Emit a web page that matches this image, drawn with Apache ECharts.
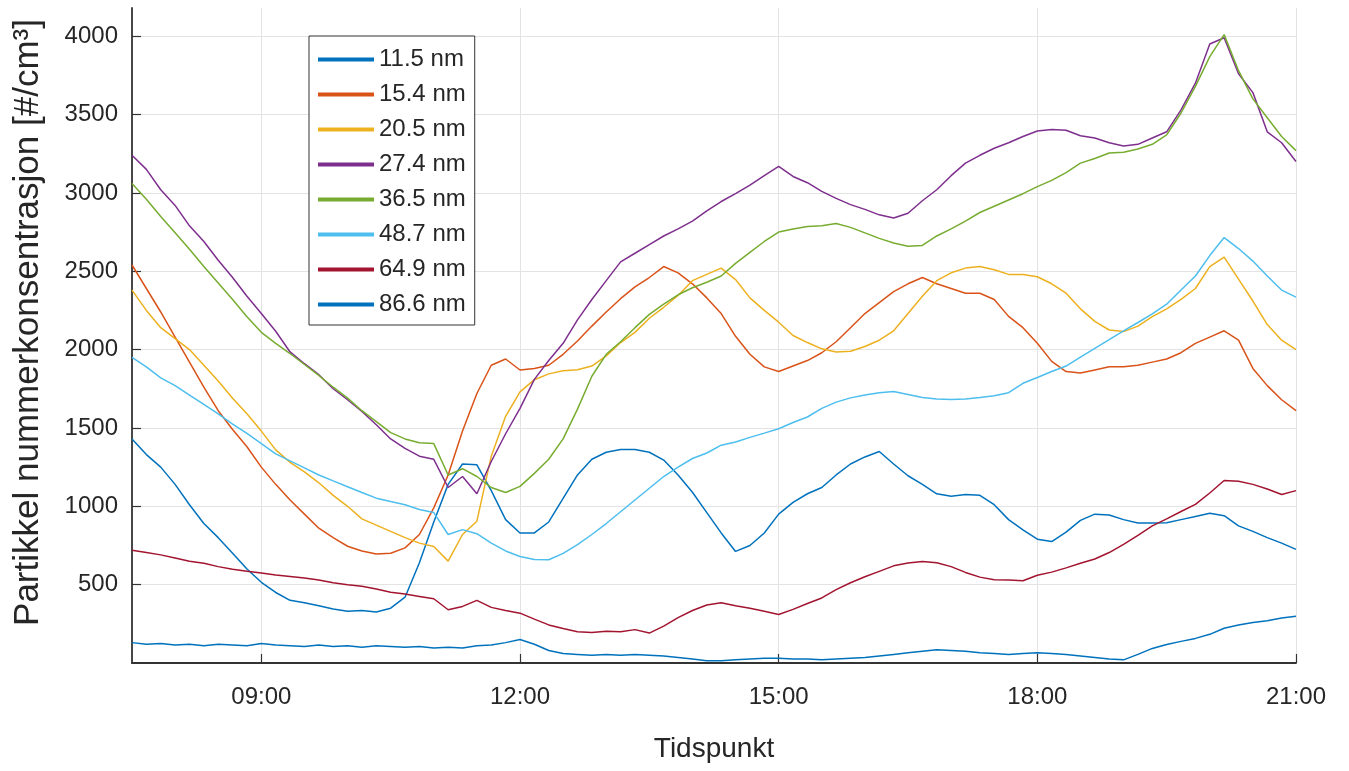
<!DOCTYPE html>
<html>
<head>
<meta charset="utf-8">
<script src="https://cdn.jsdelivr.net/npm/echarts@6/dist/echarts.min.js"></script>
<style>
html,body{margin:0;padding:0;background:#fff;}
#chart{width:1349px;height:771px;}
</style>
</head>
<body>
<div id="chart"></div>
<script>
// Sampling: every 10 minutes from 07:30 to 21:00
const sampleStartHour = 7.5;
const sampleStepMinutes = 10;

const seriesNames = ['11.5 nm','15.4 nm','20.5 nm','27.4 nm','36.5 nm','48.7 nm','64.9 nm','86.6 nm'];
const seriesColors = ['#0072BD','#D95319','#EDB120','#7E2F8E','#77AC30','#4DBEEE','#A2142F','#0072BD'];

const s115 = [1430,1330,1250,1140,1010,890,800,700,600,515,
 450,400,385,365,345,330,335,325,350,420,
 640,900,1140,1270,1265,1100,915,830,830,900,
 1050,1200,1300,1345,1362,1362,1345,1295,1200,1090,
 960,830,712,750,830,950,1025,1080,1120,1200,
 1270,1315,1350,1270,1195,1140,1080,1064,1075,1070,
 1010,915,850,790,775,835,910,950,945,915,
 894,894,895,915,935,955,940,875,840,800,
 765,725];

const s154 = [2540,2390,2240,2080,1920,1760,1610,1490,1380,1250,
 1140,1040,950,860,800,745,715,695,700,735,
 820,990,1200,1480,1720,1900,1940,1870,1880,1900,
 1970,2055,2150,2240,2325,2400,2460,2530,2490,2420,
 2330,2230,2085,1970,1890,1860,1895,1930,1980,2050,
 2140,2230,2300,2370,2420,2460,2420,2390,2360,2360,
 2320,2212,2140,2040,1925,1860,1850,1870,1890,1890,
 1900,1920,1940,1980,2040,2080,2120,2060,1880,1770,
 1680,1610];

const s205 = [2380,2250,2140,2070,2000,1900,1800,1690,1590,1480,
 1360,1280,1220,1150,1070,1000,920,880,840,800,
 765,744,650,820,905,1320,1574,1730,1808,1845,
 1865,1872,1895,1960,2045,2110,2200,2270,2345,2440,
 2480,2520,2447,2330,2250,2175,2090,2045,2005,1985,
 1990,2020,2060,2120,2230,2340,2440,2490,2520,2530,
 2510,2480,2480,2465,2420,2360,2260,2180,2125,2115,
 2150,2210,2260,2320,2390,2530,2590,2450,2310,2160,
 2060,2000];

const s274 = [3240,3150,3020,2920,2790,2690,2570,2460,2340,2230,
 2117,1985,1910,1840,1750,1680,1605,1520,1430,1370,
 1320,1300,1120,1190,1080,1286,1463,1625,1810,1930,
 2040,2190,2320,2440,2560,2615,2670,2725,2770,2820,
 2885,2945,2995,3050,3110,3170,3105,3065,3010,2965,
 2925,2895,2860,2840,2870,2950,3020,3110,3190,3240,
 3285,3320,3360,3395,3405,3400,3365,3350,3320,3300,
 3310,3350,3390,3530,3700,3950,3990,3760,3640,3390,
 3320,3200];

const s365 = [3060,2960,2850,2745,2640,2530,2425,2320,2210,2110,
 2040,1975,1905,1835,1760,1690,1610,1540,1470,1430,
 1405,1400,1200,1240,1190,1120,1088,1127,1210,1300,
 1430,1620,1830,1970,2050,2140,2225,2290,2350,2395,
 2430,2470,2550,2620,2690,2750,2770,2785,2790,2805,
 2780,2745,2710,2680,2660,2665,2725,2770,2820,2875,
 2915,2955,2995,3040,3080,3130,3190,3220,3255,3260,
 3280,3310,3370,3510,3680,3870,4010,3780,3600,3480,
 3360,3270];

const s487 = [1950,1890,1820,1770,1710,1650,1590,1525,1465,1400,
 1335,1290,1245,1200,1162,1125,1088,1052,1030,1010,
 980,960,820,851,825,765,715,680,660,659,
 700,756,820,890,965,1040,1115,1190,1250,1305,
 1340,1390,1410,1440,1467,1495,1535,1570,1625,1665,
 1692,1710,1725,1733,1714,1695,1684,1681,1685,1694,
 1705,1725,1785,1822,1860,1895,1952,2008,2063,2120,
 2173,2228,2290,2380,2470,2600,2715,2645,2565,2470,
 2380,2335];

const s649 = [720,705,690,670,650,636,615,598,585,575,
 562,552,542,530,512,500,490,472,452,440,
 425,410,340,361,400,355,335,318,280,243,
 220,200,195,202,200,213,191,235,290,335,
 370,385,365,350,330,310,342,380,415,468,
 512,550,585,620,638,648,640,615,578,548,
 532,530,525,560,580,607,636,664,705,757,
 815,875,920,967,1012,1085,1165,1160,1140,1110,
 1075,1100];

const s866 = [130,120,125,115,120,110,120,115,110,125,
 115,110,105,115,105,110,100,110,105,100,
 105,95,100,95,110,115,130,150,120,80,
 60,55,50,55,50,55,50,45,35,25,
 15,15,20,25,30,30,25,25,20,25,
 30,35,45,55,65,75,85,80,75,65,
 60,55,60,65,60,55,45,35,25,20,
 55,93,118,138,157,183,222,243,258,270,
 287,298];

const xTickHours = [9, 12, 15, 18, 21];
const xMinHour = 7.5, xMaxHour = 21;
const yMin = 0, yMax = 4180, yInterval = 500;

const seriesValues = [s115, s154, s205, s274, s365, s487, s649, s866];
const sampleHours = s115.map((_, i) => sampleStartHour + i * sampleStepMinutes / 60);

const FONT = "'Liberation Sans', Arial, Helvetica, sans-serif";
const TXT = '#262626';
const AXIS = '#333333';
const GRID = '#e3e3e3';

const chart = echarts.init(document.getElementById('chart'), null, {renderer: 'canvas'});

const series = seriesNames.map((name, k) => ({
  name: name,
  type: 'line',
  data: seriesValues[k].map((v, i) => [sampleHours[i], v]),
  showSymbol: false,
  symbol: 'none',
  lineStyle: {width: 1.5, color: seriesColors[k]},
  itemStyle: {color: seriesColors[k]},
  emphasis: {disabled: true},
  animation: false,
  z: 2 + k
}));

chart.setOption({
  backgroundColor: '#ffffff',
  animation: false,
  textStyle: {fontFamily: FONT},
  grid: {left: 132, right: 53, top: 8, bottom: 108, containLabel: false},
  legend: {
    orient: 'vertical',
    left: 309, top: 36,
    padding: [10, 9, 7, 9],
    itemGap: 8,
    itemWidth: 56, itemHeight: 4,
    icon: 'rect',
    backgroundColor: '#ffffff',
    borderColor: '#333333', borderWidth: 1, borderRadius: 0,
    selectedMode: false,
    textStyle: {fontSize: 24, color: TXT, fontFamily: FONT, lineHeight: 27},
    data: seriesNames
  },
  xAxis: {
    type: 'value',
    min: xMinHour, max: xMaxHour,
    name: 'Tidspunkt',
    nameLocation: 'middle',
    nameGap: 72,
    nameTextStyle: {fontSize: 28, color: TXT, fontFamily: FONT},
    axisLine: {show: true, onZero: false, lineStyle: {color: AXIS, width: 1.8}},
    axisTick: {show: true, inside: true, length: 9, customValues: xTickHours, lineStyle: {color: AXIS, width: 1.2}},
    axisLabel: {
      customValues: xTickHours,
      fontSize: 24, color: TXT, fontFamily: FONT, margin: 22,
      formatter: v => String(Math.round(v)).padStart(2, '0') + ':00'
    },
    splitLine: {show: true, lineStyle: {color: GRID, width: 1}}
  },
  yAxis: {
    type: 'value',
    min: yMin, max: yMax, interval: yInterval,
    name: 'Partikkel nummerkonsentrasjon [#/cm³]',
    nameLocation: 'middle',
    nameGap: 86,
    nameTextStyle: {fontSize: 35, color: TXT, fontFamily: FONT, padding: [0, 0, 0, 26]},
    axisLine: {show: true, lineStyle: {color: AXIS, width: 1.8}},
    axisTick: {show: true, inside: true, length: 9, lineStyle: {color: AXIS, width: 1.2}},
    axisLabel: {
      fontSize: 24, color: TXT, fontFamily: FONT, margin: 14,
      showMaxLabel: false, showMinLabel: false,
      formatter: v => (v === 0 ? '' : String(v))
    },
    splitLine: {show: true, showMaxLine: false, showMinLine: false, lineStyle: {color: GRID, width: 1}}
  },
  series: series
});
</script>
</body>
</html>
